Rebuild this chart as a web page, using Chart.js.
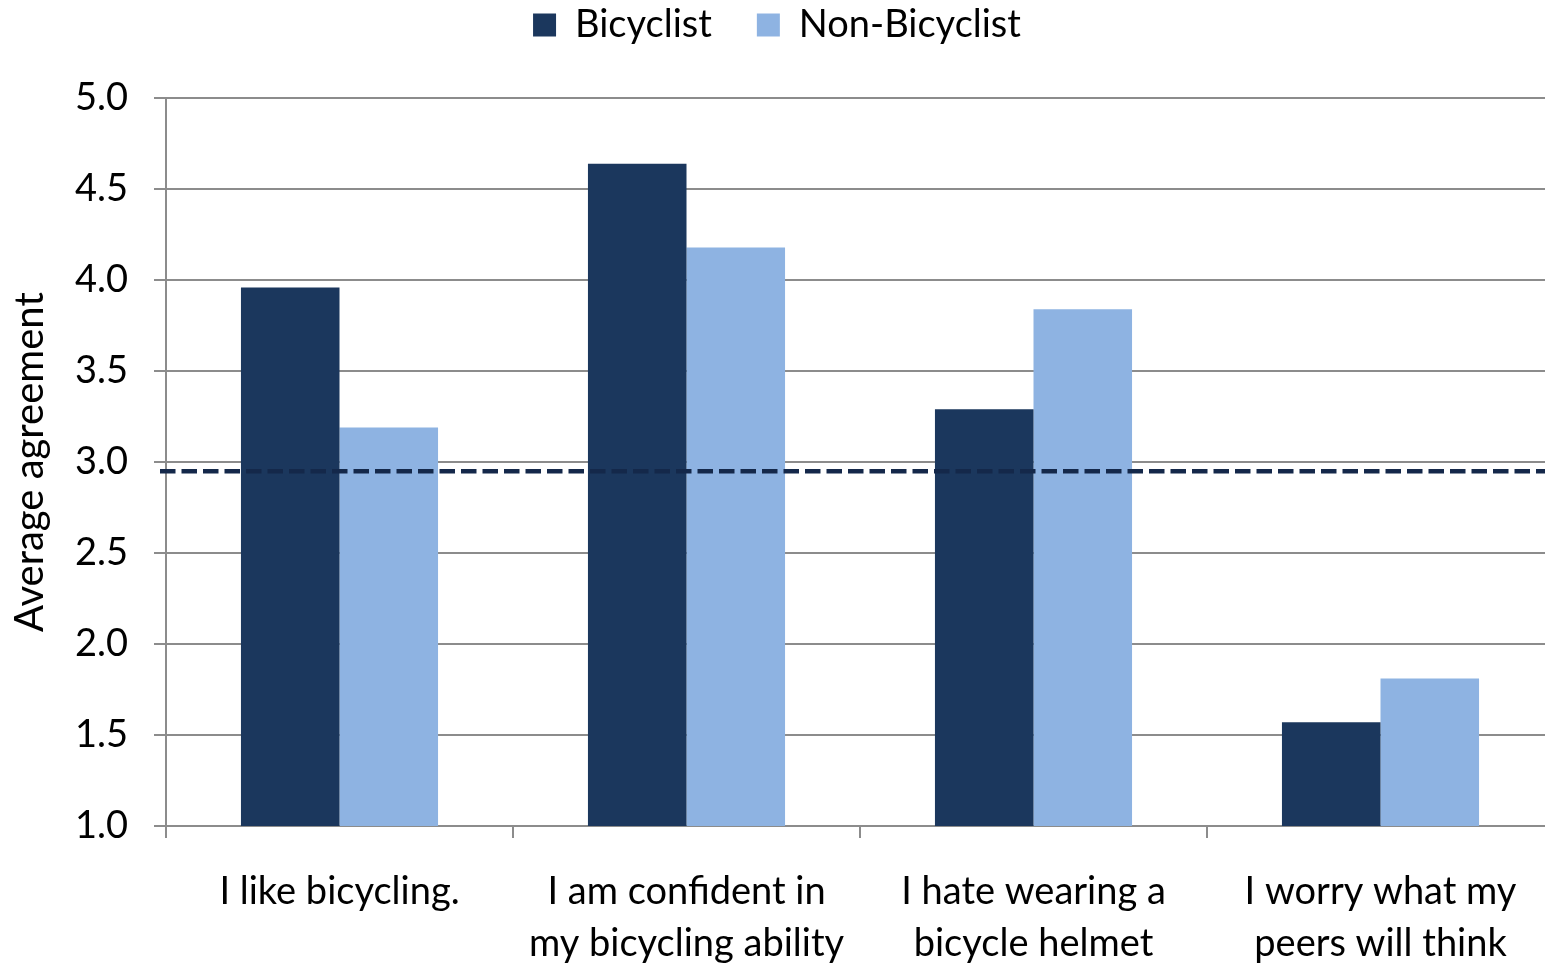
<!DOCTYPE html>
<html>
<head>
<meta charset="utf-8">
<script src="https://cdn.jsdelivr.net/npm/chart.js@4"></script>
<style>
  html,body{margin:0;padding:0;background:#fff;overflow:hidden;}
  #wrap{width:1545px;height:967px;overflow:hidden;}
</style>
</head>
<body>
<div id="wrap"><canvas id="chart" width="1554" height="967"></canvas></div>
<script>
// Data
const categories = [
  ['I like bicycling.'],
  ['I am confident in', 'my bicycling ability'],
  ['I hate wearing a', 'bicycle helmet'],
  ['I worry what my', 'peers will think']
];
const bicyclist    = [3.96, 4.64, 3.29, 1.57];
const nonBicyclist = [3.19, 4.18, 3.84, 1.81];
const refLine = 2.95;   // dashed overall average
const yTicks  = [1.0, 1.5, 2.0, 2.5, 3.0, 3.5, 4.0, 4.5, 5.0];

const FONT = 'Lato, "Open Sans", sans-serif';
const GRID = '#8c8c8c';
const LEGEND_GAP = 45;

// dashed reference line across the plot, via the y scale
const refLinePlugin = {
  id: 'refLine',
  afterDatasetsDraw(chart){
    const {ctx, chartArea, scales} = chart;
    const yy = scales.y.getPixelForValue(refLine);
    ctx.save();
    ctx.strokeStyle = '#14284a';
    ctx.lineWidth = 4.5;
    ctx.setLineDash([15.5, 6]);
    ctx.beginPath();
    ctx.moveTo(chartArea.left - 6, yy);
    ctx.lineTo(chartArea.right, yy);
    ctx.stroke();
    ctx.restore();
  }
};

// legend padding also sets the gap between items; pull the row back up
const legendLift = {
  id: 'legendLift',
  afterLayout(chart){
    const lg = chart.legend;
    if (!lg) return;
    const d = LEGEND_GAP - 6;
    lg.top -= d; lg.bottom -= d;
  }
};

new Chart(document.getElementById('chart'), {
  type: 'bar',
  data: {
    labels: categories,
    datasets: [
      { label: 'Bicyclist', data: bicyclist, backgroundColor: '#1b375d',
        categoryPercentage: 0.568, barPercentage: 1.0 },
      { label: 'Non-Bicyclist', data: nonBicyclist, backgroundColor: '#8eb3e2',
        categoryPercentage: 0.568, barPercentage: 1.0 }
    ]
  },
  options: {
    responsive: false,
    animation: false,
    layout: { padding: 0 },
    plugins: {
      tooltip: { enabled: false },
      legend: {
        position: 'top',
        weight: 1000,
        labels: {
          color: '#000',
          font: { family: FONT, size: 38 },
          boxWidth: 23, boxHeight: 23,
          padding: LEGEND_GAP
        }
      },
      // spacer between legend and plot
      title: {
        display: true, text: '', weight: 500,
        font: { size: 1 }, padding: { top: 0, bottom: 4 }
      }
    },
    scales: {
      x: {
        grid: { drawOnChartArea: false, drawTicks: true, tickLength: 12, color: GRID, lineWidth: 2 },
        border: { color: GRID, width: 2 },
        ticks: { color: '#000', font: { family: FONT, size: 38, lineHeight: 1.37 }, padding: 28, maxRotation: 0 },
        afterFit(s){ s.height = 141; }
      },
      y: {
        min: 1, max: 5,
        afterBuildTicks(s){ s.ticks = yTicks.map(v => ({ value: v })); },
        grid: { color: GRID, lineWidth: 2, tickLength: 12 },
        border: { color: GRID, width: 2 },
        ticks: {
          color: '#000', font: { family: FONT, size: 38 }, padding: 26,
          callback: v => Number(v).toFixed(1)
        },
        title: {
          display: true, text: 'Average agreement', color: '#000',
          font: { family: FONT, size: 40 }, padding: { top: 6, bottom: 0 }
        },
        afterFit(s){ s.width = 166; }
      }
    }
  },
  plugins: [refLinePlugin, legendLift]
});
</script>
</body>
</html>
